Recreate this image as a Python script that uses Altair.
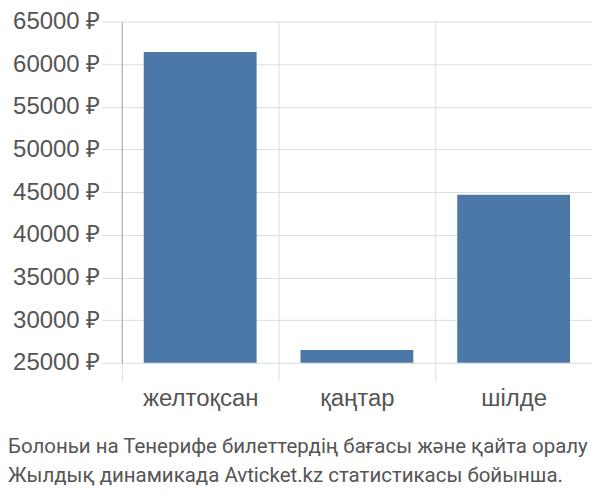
import altair as alt
import pandas as pd

months = ["желтоқсан", "қаңтар", "шілде"]
prices = [61400, 26500, 44700]
y_ticks = [25000, 30000, 35000, 40000, 45000, 50000, 55000, 60000, 65000]
y_min, y_max = 25000, 65000
title_lines = [
    "Болоньи на Тенерифе билеттердің бағасы және қайта оралу",
    "Жылдық динамикада Avticket.kz статистикасы бойынша.",
]

df = pd.DataFrame({"month": months, "price": prices})

chart = (
    alt.Chart(df)
    .mark_bar(color="#4c78a8", width=alt.RelativeBandSize(0.72))
    .encode(
        x=alt.X(
            "month:N",
            sort=months,
            title=None,
            scale=alt.Scale(paddingInner=0, paddingOuter=0),
            axis=alt.Axis(
                tickBand="extent",
                grid=True,
                gridColor="#dddddd",
                tickColor="#dddddd",
                tickSize=18,
                domain=False,
                labelAngle=0,
                labelFontSize=24,
                labelColor="#555555",
                labelPadding=6,
                labelFont="Liberation Sans",
            ),
        ),
        y=alt.Y(
            "price:Q",
            title=None,
            scale=alt.Scale(domain=[y_min, y_max], nice=False, zero=False),
            axis=alt.Axis(
                values=y_ticks,
                labelExpr="datum.value + ' ₽'",
                grid=True,
                gridColor="#dddddd",
                tickColor="#dddddd",
                tickSize=20,
                domain=True,
                domainColor="#aaaaaa",
                labelFontSize=24,
                labelColor="#555555",
                labelPadding=2,
                labelFont="Liberation Sans",
            ),
        ),
        y2=alt.datum(y_min),
    )
    .properties(
        width=471,
        height=342,
        autosize=alt.AutoSizeParams(type="none"),
        padding={"left": 114, "top": 13, "right": 0, "bottom": 123},
        title=alt.TitleParams(
            text=title_lines,
            orient="bottom",
            anchor="start",
            frame="group",
            dx=-114,
            offset=26,
            fontSize=20.5,
            fontWeight="normal",
            color="#555555",
            font="Roboto",
            lineHeight=29,
        ),
    )
    .configure_view(stroke=None)
)

chart.save("out.html", embed_options={"renderer": "svg", "actions": False})
